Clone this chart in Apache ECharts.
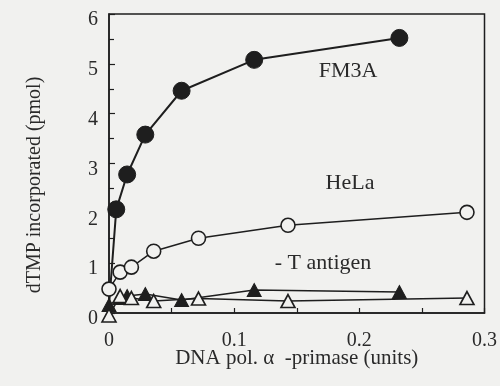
<!DOCTYPE html>
<html>
<head>
<meta charset="utf-8">
<script src="https://cdn.jsdelivr.net/npm/echarts@6/dist/echarts.min.js"></script>
<style>
  html, body { margin: 0; padding: 0; background: #f1f1ef; }
  #chart { width: 500px; height: 386px; }
</style>
</head>
<body>
<div id="chart"></div>
<script>
// DNA pol. alpha-primase titration (units) vs. dTMP incorporated (pmol)
const fm3aDose = [0, 0.0058, 0.0145, 0.029, 0.058, 0.116, 0.232];
const fm3aDtmp = [0.15, 2.08, 2.78, 3.58, 4.46, 5.08, 5.52];

const helaDose = [0, 0.0089, 0.0179, 0.0357, 0.0715, 0.143, 0.286];
const helaDtmp = [0.48, 0.82, 0.92, 1.24, 1.5, 1.76, 2.02];

const fm3aNoTDose = [0, 0.0088, 0.0145, 0.029, 0.058, 0.116, 0.232];
const fm3aNoTDtmp = [0.16, 0.3, 0.34, 0.38, 0.26, 0.46, 0.42];

const helaNoTDose = [0, 0.0089, 0.0179, 0.0357, 0.0715, 0.143, 0.286];
const helaNoTDtmp = [-0.05, 0.34, 0.3, 0.24, 0.29, 0.24, 0.3];

const xTicks = [0, 0.1, 0.2, 0.3];
const yTicks = [0, 1, 2, 3, 4, 5, 6];

const seriesLabels = ['FM3A', 'HeLa', '- T antigen'];
const xTitle = 'DNA pol. α  -primase (units)';
const yTitle = 'dTMP incorporated (pmol)';

const ink = '#1e1e1e';
const textInk = '#2a2a2a';
const paper = '#f1f1ef';
const font = '"Liberation Serif", "DejaVu Serif", serif';

function pairs(xs, ys) { return xs.map((x, i) => [x, ys[i]]); }

// the zero-enzyme FM3A point sits under the filled triangle, so it carries no marker of its own
const fm3aData = pairs(fm3aDose, fm3aDtmp).map((p, i) => i === 0 ? { value: p, symbol: 'none' } : p);

const chart = echarts.init(document.getElementById('chart'));
chart.setOption({
  backgroundColor: paper,
  animation: false,
  grid: { left: 109, right: 15, top: 14, bottom: 73, show: true, borderColor: ink, borderWidth: 1.5, backgroundColor: 'transparent' },
  xAxis: {
    type: 'value', min: 0, max: 0.3, interval: 0.1,
    name: xTitle, nameLocation: 'middle', nameGap: 35, nameMoveOverlap: false,
    nameTextStyle: { fontFamily: font, fontSize: 21, color: textInk },
    axisLine: { lineStyle: { color: ink, width: 1.5 } },
    axisTick: { inside: true, length: 5, lineStyle: { color: ink, width: 1.2 } },
    minorTick: { show: true, splitNumber: 2, length: 5, lineStyle: { color: ink, width: 1.2 } },
    splitLine: { show: false },
    axisLabel: {
      fontFamily: font, fontSize: 20, color: textInk, margin: 18,
      formatter: v => xTicks.includes(+v.toFixed(2)) ? String(+v.toFixed(2)) : ''
    }
  },
  yAxis: {
    type: 'value', min: 0, max: 6, interval: 1,
    axisLine: { lineStyle: { color: ink, width: 1.5 } },
    axisTick: { inside: true, length: 6, lineStyle: { color: ink, width: 1.2 } },
    minorTick: { show: true, splitNumber: 2, length: 5, lineStyle: { color: ink, width: 1.2 } },
    splitLine: { show: false },
    axisLabel: {
      fontFamily: font, fontSize: 20, color: textInk, margin: 11,
      verticalAlign: 'top', lineHeight: 12,
      formatter: v => yTicks.includes(v) ? String(v) : ''
    }
  },
  series: [
    {
      type: 'line', data: fm3aData, clip: false, z: 2,
      symbol: 'circle', symbolSize: 17,
      lineStyle: { color: ink, width: 2 },
      itemStyle: { color: ink, borderColor: ink, borderWidth: 1 }
    },
    {
      type: 'line', data: pairs(helaDose, helaDtmp), clip: false, z: 3,
      symbol: 'circle', symbolSize: 14,
      lineStyle: { color: ink, width: 1.5 },
      itemStyle: { color: paper, borderColor: ink, borderWidth: 1.6 }
    },
    {
      type: 'line', data: pairs(fm3aNoTDose, fm3aNoTDtmp), clip: false, z: 4,
      symbol: 'triangle', symbolSize: [14, 13],
      lineStyle: { color: ink, width: 1.5 },
      itemStyle: { color: ink, borderColor: ink, borderWidth: 1 }
    },
    {
      type: 'line', data: pairs(helaNoTDose, helaNoTDtmp), clip: false, z: 5,
      symbol: 'triangle', symbolSize: [14, 13],
      lineStyle: { color: ink, width: 1.5 },
      itemStyle: { color: paper, borderColor: ink, borderWidth: 1.6 }
    }
  ],
  graphic: [
    { type: 'text', x: 35, y: 185, rotation: Math.PI / 2, style: { text: yTitle, font: '20px ' + font, fill: textInk, align: 'center', verticalAlign: 'middle' } },
    { type: 'text', x: 348, y: 71, style: { text: seriesLabels[0], font: '22px ' + font, fill: textInk, align: 'center', verticalAlign: 'middle' } },
    { type: 'text', x: 350, y: 183, style: { text: seriesLabels[1], font: '22px ' + font, fill: textInk, align: 'center', verticalAlign: 'middle' } },
    { type: 'text', x: 323, y: 263, style: { text: seriesLabels[2], font: '22px ' + font, fill: textInk, align: 'center', verticalAlign: 'middle' } }
  ]
});
</script>
</body>
</html>
